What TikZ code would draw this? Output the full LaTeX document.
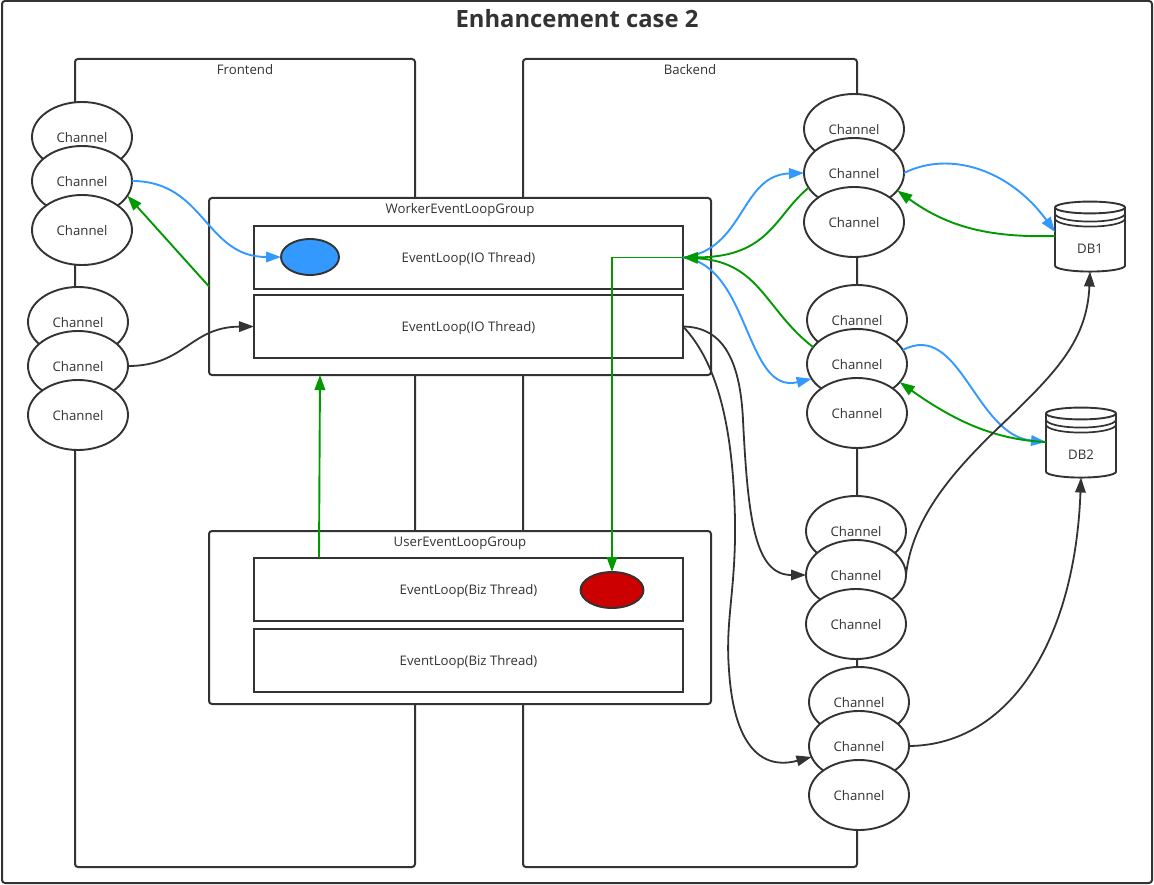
\documentclass[tikz,border=0pt]{standalone}
\usepackage{fontspec}
\setmainfont{Open Sans}
\usepackage{tikz}
\usetikzlibrary{arrows.meta,shapes.geometric}
\definecolor{inkgrey}{HTML}{333333}
\definecolor{linkblue}{HTML}{3399FF}
\definecolor{linkgreen}{HTML}{009900}
\definecolor{ballred}{HTML}{CC0000}

\begin{document}
\begin{tikzpicture}[
  x=1pt,y=-1pt,
  every node/.style={font=\fontsize{13.2}{15}\selectfont,text=inkgrey},
  panel/.style={
    draw=inkgrey,
    line width=2pt,
    rounded corners=3pt,
    fill=white,
    inner sep=0pt,
    outer sep=0pt
  },
  thread/.style={
    draw=inkgrey,
    line width=2pt,
    fill=white,
    minimum width=429pt,
    minimum height=63pt,
    text height=13pt,
    text depth=2pt,
    inner sep=0pt,
    outer sep=0pt
  },
  channel/.style={
    ellipse,
    draw=inkgrey,
    line width=1.9pt,
    fill=white,
    minimum width=100pt,
    minimum height=70pt,
    text height=13pt,
    text depth=2pt,
    inner sep=0pt,
    outer sep=0pt
  },
  ball/.style={
    ellipse,
    draw=inkgrey,
    line width=1.9pt,
    inner sep=0pt,
    outer sep=0pt
  },
  dbcan/.style={
    cylinder,
    shape border rotate=90,
    shape aspect=0.46,
    draw=inkgrey,
    line width=1.9pt,
    fill=white,
    minimum width=70pt,
    minimum height=70pt,
    text height=29pt,
    text depth=2pt,
    inner sep=0pt,
    outer sep=0pt
  },
  ring/.style={draw=inkgrey,line width=1.7pt},
  bluelink/.style={-{Triangle[length=15pt,width=10.5pt]},line width=1.9pt,linkblue},
  greenlink/.style={-{Triangle[length=15pt,width=10.5pt]},line width=1.9pt,linkgreen},
  blacklink/.style={-{Triangle[length=15pt,width=10.5pt]},line width=1.8pt,inkgrey}
]
\useasboundingbox (0,0) rectangle (1154,885);

 \node[panel,minimum width=1150pt,minimum height=882pt] (page) at (577,442) {};
 \node[font=\fontsize{23.8}{27}\selectfont\bfseries] (title) at (577,18.5) {Enhancement case 2};

 \node[panel,minimum width=340pt,minimum height=808pt] (frontend) at (245,463) {};
 \node (frontendtxt) at (245,70) {Frontend};
 \node[panel,minimum width=334pt,minimum height=808pt] (backend) at (690,463) {};
 \node (backendtxt) at (690,70) {Backend};

 \node[panel,minimum width=502pt,minimum height=177pt] (worker) at (460,286.5) {};
 \node (workertxt) at (460,210.5) {WorkerEventLoopGroup};
 \node[thread] (ev1) at (468.5,257.5) {EventLoop(IO Thread)};
 \node[thread] (ev2) at (468.5,326.5) {EventLoop(IO Thread)};
 \node[ball,fill=linkblue,minimum width=58pt,minimum height=36pt] (blueball) at (310,257) {};

 \node[panel,minimum width=502pt,minimum height=173pt] (user) at (460,617.5) {};
 \node (usertxt) at (460,543.5) {UserEventLoopGroup};
 \node[thread] (biz1) at (468.5,589) {EventLoop(Biz Thread)};
 \node[thread] (biz2) at (468.5,660) {EventLoop(Biz Thread)};
 \node[ball,fill=ballred,minimum width=63pt,minimum height=36pt] (redball) at (612,590) {};

 \node[channel] (la1) at (82,137) {Channel};
 \node[channel] (la2) at (82,181) {Channel};
 \node[channel] (la3) at (82,230) {Channel};
 \node[channel] (lb1) at (78,322) {Channel};
 \node[channel] (lb2) at (78,366) {Channel};
 \node[channel] (lb3) at (78,415) {Channel};

 \node[channel] (ra1) at (854,129) {Channel};
 \node[channel] (ra2) at (854,173) {Channel};
 \node[channel] (ra3) at (854,222) {Channel};
 \node[channel] (rb1) at (857,320) {Channel};
 \node[channel] (rb2) at (857,364) {Channel};
 \node[channel] (rb3) at (857,413) {Channel};
 \node[channel] (rc1) at (856,531) {Channel};
 \node[channel] (rc2) at (856,575) {Channel};
 \node[channel] (rc3) at (856,624) {Channel};
 \node[channel] (rd1) at (859,702) {Channel};
 \node[channel] (rd2) at (859,746) {Channel};
 \node[channel] (rd3) at (859,795) {Channel};

 \node[dbcan] (db1) at (1090,240) {DB1};
 \draw[ring] ([xshift=-35pt,yshift=-12pt]db1.north) arc[start angle=180,end angle=360,x radius=35pt,y radius=8pt];
 \draw[ring] ([xshift=-35pt,yshift=-17pt]db1.north) arc[start angle=180,end angle=360,x radius=35pt,y radius=8pt];
 \node[dbcan] (db2) at (1081,446) {DB2};
 \draw[ring] ([xshift=-35pt,yshift=-12pt]db2.north) arc[start angle=180,end angle=360,x radius=35pt,y radius=8pt];
 \draw[ring] ([xshift=-35pt,yshift=-17pt]db2.north) arc[start angle=180,end angle=360,x radius=35pt,y radius=8pt];

 \draw[bluelink] (la2.east) .. controls (205,181) and (205,257) .. (blueball.west);
 \draw[greenlink] (worker.west) -- (la2.-18);
 \draw[blacklink] (lb2.east) .. controls (185,366) and (190,327) .. (ev2.west);
 \draw[greenlink] ([xshift=65pt]biz1.north west) -- ([xshift=111pt]worker.south west);
 \draw[greenlink] (ev1.east) -| (redball.north);

 \draw[bluelink] (ev1.east) .. controls (745,250) and (740,175) .. (ra2.west);
 \draw[bluelink] (ev1.east) .. controls (750,265) and (745,395) .. (rb2.198);
 \draw[greenlink] (ra2.198) .. controls (775,215) and (770,257) .. (ev1.east);
 \draw[greenlink] (rb2.159) .. controls (765,310) and (760,262) .. (ev1.east);

 \draw[blacklink] (ev2.east) .. controls (720,327) and (740,355) .. (743,420) .. controls (748,520) and (755,575) .. (rc2.west);
 \draw[blacklink] (ev2.east) .. controls (715,360) and (733,420) .. (735,520) .. controls (736,590) and (725,620) .. (729,670) .. controls (733,735) and (755,772) .. (rd2.193);

 \draw[bluelink] (ra2.east) .. controls (950,150) and (1010,170) .. ([yshift=8pt]db1.west);
 \draw[greenlink] ([yshift=4pt]db1.west) .. controls (985,238) and (945,225) .. (ra2.-22);
 \draw[bluelink] (rb2.17) .. controls (960,320) and (975,435) .. ([yshift=4pt]db2.west);
 \draw[greenlink] ([yshift=4pt]db2.west) .. controls (1000,440) and (960,425) .. (rb2.-23);
 \draw[blacklink] (rc2.east) .. controls (912,520) and (950,475) .. (993,433) .. controls (1050,378) and (1087,345) .. (db1.south);
 \draw[blacklink] (rd2.east) .. controls (1010,745) and (1075,640) .. (db2.south);
\end{tikzpicture}
\end{document}
